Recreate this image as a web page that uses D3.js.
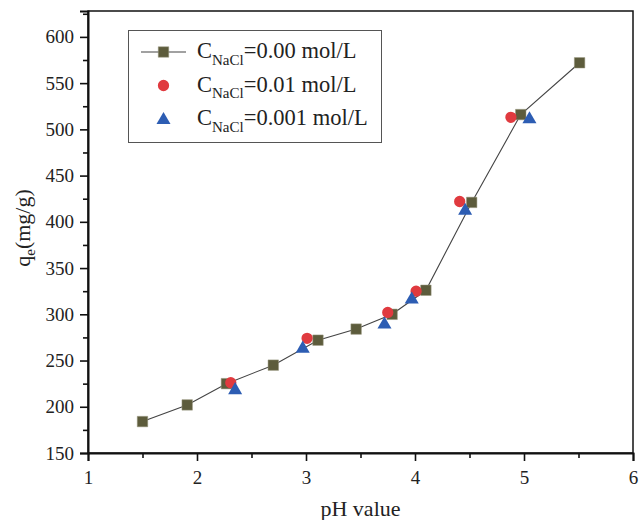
<!DOCTYPE html>
<html>
<head>
<meta charset="utf-8">
<script src="https://cdn.jsdelivr.net/npm/d3@7"></script>
<style>
body { margin: 0; background: #fff; }
text { font-family: "Liberation Serif", "Times New Roman", serif; fill: #222; }
</style>
</head>
<body>
<svg id="chart" width="644" height="520"></svg>
<script>
// series
var ph0 = [1.5, 1.91, 2.27, 2.7, 3.11, 3.46, 3.79, 4.1, 4.52, 4.97, 5.51];
var q0  = [184, 202, 225, 245, 272, 284, 300, 326, 421, 516, 572];
var ph1 = [2.31, 3.01, 3.75, 4.01, 4.41, 4.88];
var q1  = [226, 274, 302, 325, 422, 513];
var ph2 = [2.35, 2.97, 3.72, 3.97, 4.46, 5.05];
var q2  = [219, 264, 290, 317, 413, 512];
var xTicks = [1, 2, 3, 4, 5, 6];
var yTicks = [150, 200, 250, 300, 350, 400, 450, 500, 550, 600];
var legendLabels = ["=0.00 mol/L", "=0.01 mol/L", "=0.001 mol/L"];

var svg = d3.select("#chart");
var pLeft = 88, pRight = 633, pTop = 11, pBottom = 453;

var x = d3.scaleLinear().domain([1, 6]).range([pLeft, pRight]);
var y = d3.scaleLinear().domain([150, 628]).range([pBottom, pTop]);

// frame
svg.append("rect")
    .attr("x", pLeft).attr("y", pTop)
    .attr("width", pRight - pLeft).attr("height", pBottom - pTop)
    .attr("fill", "none").attr("stroke", "#111").attr("stroke-width", 1.5);

// axes
svg.append("g").attr("transform", "translate(0," + pBottom + ")")
    .call(d3.axisBottom(x).tickValues(xTicks).tickFormat(d3.format("d")).tickSize(8).tickPadding(10));
svg.append("g").attr("transform", "translate(0," + pBottom + ")")
    .call(d3.axisBottom(x).tickValues(d3.range(1.5, 6, 1)).tickFormat("").tickSize(5))
    .select(".domain").remove();

svg.append("g").attr("transform", "translate(" + pLeft + ",0)")
    .call(d3.axisLeft(y).tickValues(yTicks).tickSize(8).tickPadding(6));
svg.append("g").attr("transform", "translate(" + pLeft + ",0)")
    .call(d3.axisLeft(y).tickValues(d3.range(175, 626, 50)).tickFormat("").tickSize(5))
    .select(".domain").remove();

svg.selectAll(".domain").attr("stroke", "#111").attr("stroke-width", 2);
svg.selectAll(".tick line").attr("stroke", "#111").attr("stroke-width", 1.6);
svg.selectAll(".tick text").style("font-family", "Liberation Serif").style("font-size", "19px").attr("fill", "#333");

// axis titles
svg.append("text")
    .attr("x", (pLeft + pRight) / 2).attr("y", 516)
    .attr("text-anchor", "middle").style("font-size", "22px")
    .text("pH value");

var yl = svg.append("text")
    .attr("transform", "translate(30,228) rotate(-90)")
    .attr("text-anchor", "middle").style("font-size", "22px");
yl.append("tspan").text("q");
yl.append("tspan").attr("dy", 5).style("font-size", "15px").text("e");
yl.append("tspan").attr("dy", -5).text("(mg/g)");

// series
var pts0 = ph0.map(function(d, i) { return [d, q0[i]]; });
var pts1 = ph1.map(function(d, i) { return [d, q1[i]]; });
var pts2 = ph2.map(function(d, i) { return [d, q2[i]]; });

svg.append("path")
    .datum(pts0)
    .attr("fill", "none").attr("stroke", "#444").attr("stroke-width", 1.1)
    .attr("d", d3.line().x(function(d) { return x(d[0]); }).y(function(d) { return y(d[1]); }));

var square = d3.symbol().type(d3.symbolSquare).size(110);
var circle = d3.symbol().type(d3.symbolCircle).size(100);
var tri = d3.symbol().type(d3.symbolTriangle).size(85);

svg.append("g").selectAll("path").data(pts0).enter().append("path")
    .attr("d", square)
    .attr("transform", function(d) { return "translate(" + x(d[0]) + "," + y(d[1]) + ")"; })
    .attr("fill", "#5d5c3c").attr("stroke", "#9a9980").attr("stroke-width", 0.5);

svg.append("g").selectAll("path").data(pts1).enter().append("path")
    .attr("d", circle)
    .attr("transform", function(d) { return "translate(" + x(d[0]) + "," + y(d[1]) + ")"; })
    .attr("fill", "#e03a3f");

svg.append("g").selectAll("path").data(pts2).enter().append("path")
    .attr("d", tri)
    .attr("transform", function(d) { return "translate(" + x(d[0]) + "," + (y(d[1]) + 1) + ")"; })
    .attr("fill", "#2d5db3");

// legend
var lg = svg.append("g");
lg.append("rect")
    .attr("x", 128.5).attr("y", 30.5).attr("width", 253).attr("height", 112)
    .attr("fill", "#fff").attr("stroke", "#555").attr("stroke-width", 1);

var rowY = [52, 85.5, 119];
lg.append("line").attr("x1", 141).attr("x2", 186).attr("y1", rowY[0]).attr("y2", rowY[0])
    .attr("stroke", "#444").attr("stroke-width", 1.1);
lg.append("path").attr("d", square).attr("transform", "translate(163.5," + rowY[0] + ")")
    .attr("fill", "#5d5c3c").attr("stroke", "#9a9980").attr("stroke-width", 0.5);
lg.append("path").attr("d", circle).attr("transform", "translate(163.5," + rowY[1] + ")")
    .attr("fill", "#e03a3f");
lg.append("path").attr("d", tri).attr("transform", "translate(163.5," + (rowY[2] + 1) + ")")
    .attr("fill", "#2d5db3");

legendLabels.forEach(function(lab, i) {
    var t = lg.append("text").attr("x", 197).attr("y", rowY[i] + 6).style("font-size", "22.5px");
    t.append("tspan").text("C");
    t.append("tspan").attr("dy", 6.5).style("font-size", "15px").text("NaCl");
    t.append("tspan").attr("dy", -6.5).text(lab);
});
</script>
</body>
</html>
